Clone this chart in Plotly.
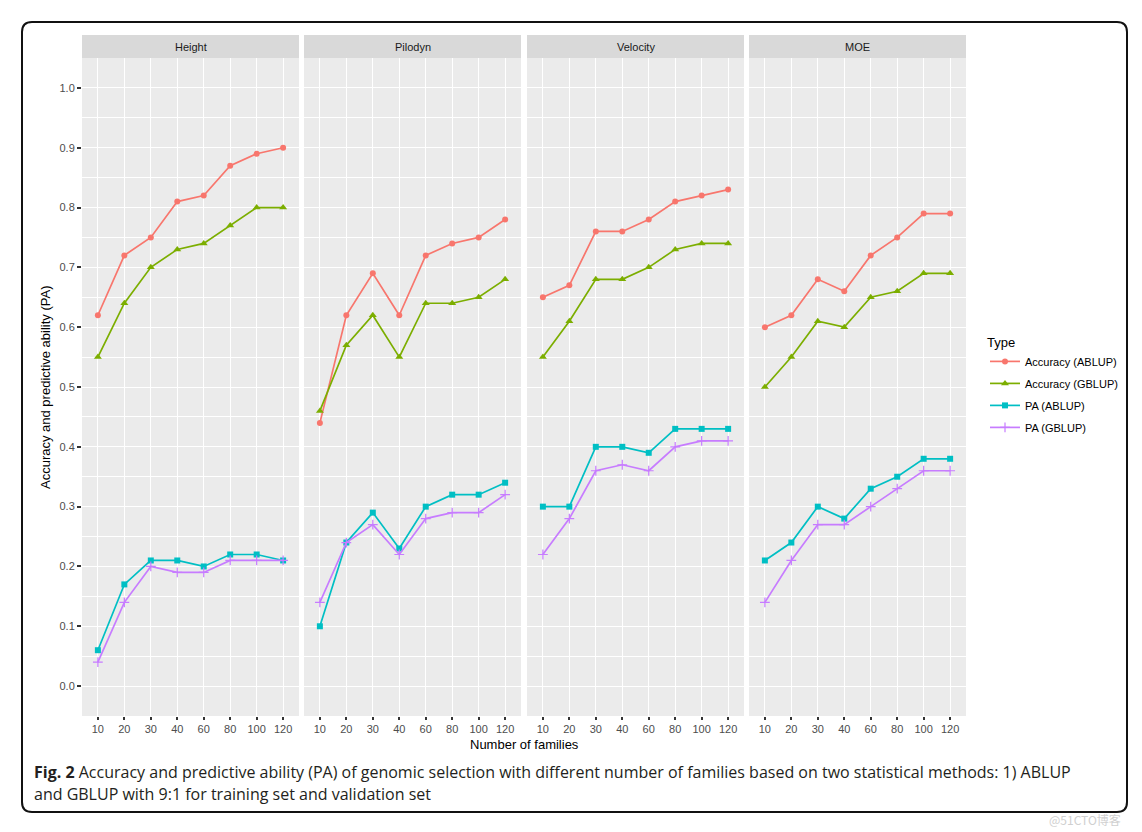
import plotly.graph_objects as go

# ---------------- data ----------------
families = ["10", "20", "30", "40", "60", "80", "100", "120"]
traits = ["Height", "Pilodyn", "Velocity", "MOE"]
series_names = ["Accuracy (ABLUP)", "Accuracy (GBLUP)", "PA (ABLUP)", "PA (GBLUP)"]

height_acc_ablup = [0.62, 0.72, 0.75, 0.81, 0.82, 0.87, 0.89, 0.90]
height_acc_gblup = [0.55, 0.64, 0.70, 0.73, 0.74, 0.77, 0.80, 0.80]
height_pa_ablup = [0.06, 0.17, 0.21, 0.21, 0.20, 0.22, 0.22, 0.21]
height_pa_gblup = [0.04, 0.14, 0.20, 0.19, 0.19, 0.21, 0.21, 0.21]

pilodyn_acc_ablup = [0.44, 0.62, 0.69, 0.62, 0.72, 0.74, 0.75, 0.78]
pilodyn_acc_gblup = [0.46, 0.57, 0.62, 0.55, 0.64, 0.64, 0.65, 0.68]
pilodyn_pa_ablup = [0.10, 0.24, 0.29, 0.23, 0.30, 0.32, 0.32, 0.34]
pilodyn_pa_gblup = [0.14, 0.24, 0.27, 0.22, 0.28, 0.29, 0.29, 0.32]

velocity_acc_ablup = [0.65, 0.67, 0.76, 0.76, 0.78, 0.81, 0.82, 0.83]
velocity_acc_gblup = [0.55, 0.61, 0.68, 0.68, 0.70, 0.73, 0.74, 0.74]
velocity_pa_ablup = [0.30, 0.30, 0.40, 0.40, 0.39, 0.43, 0.43, 0.43]
velocity_pa_gblup = [0.22, 0.28, 0.36, 0.37, 0.36, 0.40, 0.41, 0.41]

moe_acc_ablup = [0.60, 0.62, 0.68, 0.66, 0.72, 0.75, 0.79, 0.79]
moe_acc_gblup = [0.50, 0.55, 0.61, 0.60, 0.65, 0.66, 0.69, 0.69]
moe_pa_ablup = [0.21, 0.24, 0.30, 0.28, 0.33, 0.35, 0.38, 0.38]
moe_pa_gblup = [0.14, 0.21, 0.27, 0.27, 0.30, 0.33, 0.36, 0.36]

y_ticks = [0.0, 0.1, 0.2, 0.3, 0.4, 0.5, 0.6, 0.7, 0.8, 0.9, 1.0]

caption_bold = "Fig. 2"
caption_line1 = (" Accuracy and predictive ability (PA) of genomic selection with different "
                 "number of families based on two statistical methods: 1) ABLUP")
caption_line2 = "and GBLUP with 9:1 for training set and validation set"

# ---------------- build ----------------
data = {
    "Height": [height_acc_ablup, height_acc_gblup, height_pa_ablup, height_pa_gblup],
    "Pilodyn": [pilodyn_acc_ablup, pilodyn_acc_gblup, pilodyn_pa_ablup, pilodyn_pa_gblup],
    "Velocity": [velocity_acc_ablup, velocity_acc_gblup, velocity_pa_ablup, velocity_pa_gblup],
    "MOE": [moe_acc_ablup, moe_acc_gblup, moe_pa_ablup, moe_pa_gblup],
}
colors = ["#F8766D", "#7CAE00", "#00BFC4", "#C77CFF"]
symbols = ["circle", "triangle-up", "square", "cross-thin"]
msizes = [6, 7, 6, 7]

W, H = 1142, 832


def px(x):
    return x / W


def py(y):
    return 1 - y / H


FONT = "Liberation Sans, Arial, Helvetica, sans-serif"
panel_left = [82, 304, 527, 749]
panel_w = 217
plot_top, plot_bot = 58, 716
strip_top = 35

fig = go.Figure()

for i, trait in enumerate(traits):
    xa = "x" if i == 0 else f"x{i+1}"
    ya = "y" if i == 0 else f"y{i+1}"
    for j, name in enumerate(series_names):
        fig.add_trace(go.Scatter(
            x=families, y=data[trait][j], xaxis=xa, yaxis=ya,
            mode="lines+markers", name=name, legendgroup=name,
            showlegend=(i == 0),
            line=dict(color=colors[j], width=1.7),
            marker=dict(symbol=symbols[j], size=msizes[j], color=colors[j],
                        line=dict(color=colors[j], width=1.2 if j == 3 else 0)),
        ))

layout = dict(
    width=W, height=H,
    margin=dict(l=0, r=0, t=0, b=0),
    paper_bgcolor="white",
    plot_bgcolor="#EBEBEB",
    font=dict(family=FONT, size=11, color="#4D4D4D"),
    legend=dict(
        x=px(985), y=py(330), xanchor="left", yanchor="top",
        title=dict(text="Type", font=dict(size=13, color="#000000")),
        font=dict(size=11, color="#000000"),
        bgcolor="rgba(0,0,0,0)", tracegroupgap=3, itemwidth=30,
    ),
)

for i in range(4):
    sfx = "" if i == 0 else str(i + 1)
    layout["xaxis" + sfx] = dict(
        domain=[px(panel_left[i]), px(panel_left[i] + panel_w)],
        anchor="y" + sfx, type="category", categoryorder="array",
        categoryarray=families, range=[-0.6, 7.6],
        showgrid=True, gridcolor="white", gridwidth=1.2, zeroline=False,
        showline=False, ticks="outside", ticklen=3, tickwidth=1.5,
        tickcolor="#333333", tickfont=dict(size=11, color="#4D4D4D"),
    )
    layout["yaxis" + sfx] = dict(
        domain=[py(plot_bot), py(plot_top)],
        anchor="x" + sfx, range=[-0.05, 1.05],
        tickvals=y_ticks, tickformat=".1f",
        showgrid=True, gridcolor="white", gridwidth=1.2, zeroline=False,
        showline=False,
        minor=dict(dtick=0.05, tick0=0, showgrid=True, gridcolor="white",
                   gridwidth=0.5),
        ticks="outside" if i == 0 else "", ticklen=4, tickwidth=1.5,
        tickcolor="#333333", showticklabels=(i == 0),
        tickfont=dict(size=11, color="#4D4D4D"),
    )
    if i > 0:
        layout["yaxis" + sfx]["matches"] = "y"

fig.update_layout(**layout)

shapes = []
annotations = []
for i, trait in enumerate(traits):
    x0, x1 = panel_left[i], panel_left[i] + panel_w
    shapes.append(dict(type="rect", xref="paper", yref="paper",
                       x0=px(x0), x1=px(x1), y0=py(plot_top), y1=py(strip_top),
                       fillcolor="#D9D9D9", line=dict(width=0), layer="below"))
    annotations.append(dict(text=trait, xref="paper", yref="paper",
                            x=px((x0 + x1) / 2), y=py((strip_top + plot_top) / 2),
                            showarrow=False, xanchor="center", yanchor="middle",
                            font=dict(size=11, color="#1A1A1A", family=FONT)))

# axis titles
annotations.append(dict(text="Number of families", xref="paper", yref="paper",
                        x=px(524), y=py(744), showarrow=False,
                        xanchor="center", yanchor="middle",
                        font=dict(size=13, color="#000000", family=FONT)))
annotations.append(dict(text="Accuracy and predictive ability (PA)", xref="paper",
                        yref="paper", x=px(45), y=py(387), showarrow=False,
                        textangle=-90, xanchor="center", yanchor="middle",
                        font=dict(size=13, color="#000000", family=FONT)))

# caption
CAP_FONT = "Open Sans, Noto Sans, sans-serif"
annotations.append(dict(text=f"<b>{caption_bold}</b>{caption_line1}", xref="paper",
                        yref="paper", x=px(32), y=py(772), showarrow=False,
                        xanchor="left", yanchor="middle",
                        font=dict(size=16, color="#231F20", family=CAP_FONT)))
annotations.append(dict(text=caption_line2, xref="paper",
                        yref="paper", x=px(32), y=py(794), showarrow=False,
                        xanchor="left", yanchor="middle",
                        font=dict(size=16, color="#231F20", family=CAP_FONT)))
# watermark
annotations.append(dict(text="@51CTO博客", xref="paper", yref="paper",
                        x=px(1085), y=py(819), showarrow=False,
                        xanchor="center", yanchor="middle",
                        font=dict(size=12, color="#D0D0D0",
                                  family="Noto Sans CJK SC, sans-serif")))

# rounded border
bx0, by0, bx1, by1, r = 22, 22, 1127, 812, 10
path = (f"M {px(bx0 + r)},{py(by0)} L {px(bx1 - r)},{py(by0)} "
        f"Q {px(bx1)},{py(by0)} {px(bx1)},{py(by0 + r)} "
        f"L {px(bx1)},{py(by1 - r)} Q {px(bx1)},{py(by1)} {px(bx1 - r)},{py(by1)} "
        f"L {px(bx0 + r)},{py(by1)} Q {px(bx0)},{py(by1)} {px(bx0)},{py(by1 - r)} "
        f"L {px(bx0)},{py(by0 + r)} Q {px(bx0)},{py(by0)} {px(bx0 + r)},{py(by0)} Z")
shapes.append(dict(type="path", xref="paper", yref="paper", path=path,
                   line=dict(color="#111111", width=2)))

fig.update_layout(shapes=shapes, annotations=annotations)

fig.write_html("out.html", config={"displayModeBar": False},
               post_script="document.body.style.margin='0';document.body.style.overflow='hidden';")
